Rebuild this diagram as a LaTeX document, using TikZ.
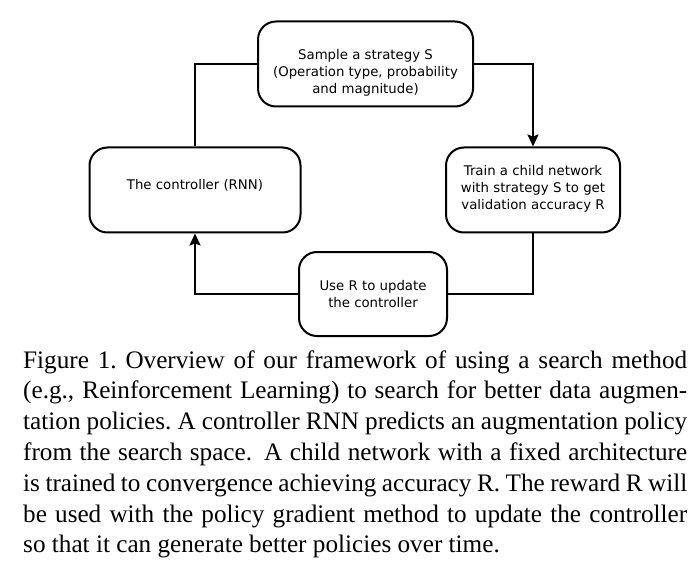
\documentclass[tikz,border=0pt]{standalone}
\usepackage{fontspec}
\setmainfont{Liberation Serif}
\newfontfamily\diagfont{DejaVu Sans}
\usetikzlibrary{arrows.meta}
\tolerance=9999
\hyphenpenalty=10000
\begin{document}
\begin{tikzpicture}[x=1pt,y=-1pt,
  box/.style={draw, line width=2pt, rounded corners=18pt, inner sep=0pt},
  btext/.style={font=\diagfont\fontsize{13.3}{17}\selectfont, align=center, inner sep=0pt},
  conn/.style={line width=2pt},
  arr/.style={conn, -{Stealth[length=12pt,width=11pt,inset=2pt]}},
  captext/.style={anchor=base west, inner sep=0pt, text width=664pt, align=justify,
    font=\fontsize{25.2}{30.8}\selectfont}
]
\fill[white] (0,0) rectangle (698,569);
\useasboundingbox (0,0) rectangle (698,569);

\node[box, minimum width=215pt, minimum height=85pt] (top) at (365.5,64) {};
\node[btext] (toptxt) at (365.5,73) {Sample a strategy S\\(Operation type, probability\\and magnitude)};

\node[box, minimum width=211pt, minimum height=85pt] (left) at (195,190) {};
\node[btext] (lefttxt) at (195,185) {The controller (RNN)};

\node[box, minimum width=174pt, minimum height=85pt] (right) at (533,190) {};
\node[btext] (righttxt) at (533,189) {Train a child network\\with strategy S to get\\validation accuracy R};

\node[box, minimum width=148pt, minimum height=84pt] (bottom) at (373,294) {};
\node[btext] (bottomtxt) at (373,294.5) {Use R to update\\the controller};

\draw[conn] (left.north) |- (top.west);
\draw[arr] (top.east) -| (right.north);
\draw[conn] (right.south) |- (bottom.east);
\draw[arr] (bottom.west) -| (left.south);

\node[captext] (cap) at (23,368) {Figure 1.\ Overview of our framework of using a search method\linebreak
(e.g., Reinforcement Learning) to search for better data augmen-\linebreak
tation policies.\ A controller RNN predicts an augmentation policy\linebreak
from the search space.  A child network with a fixed architecture\linebreak
is trained to convergence achieving accuracy R. The reward R will\linebreak
be used with the policy gradient method to update the controller\linebreak
so that it can generate better policies over time.};
\end{tikzpicture}
\end{document}
